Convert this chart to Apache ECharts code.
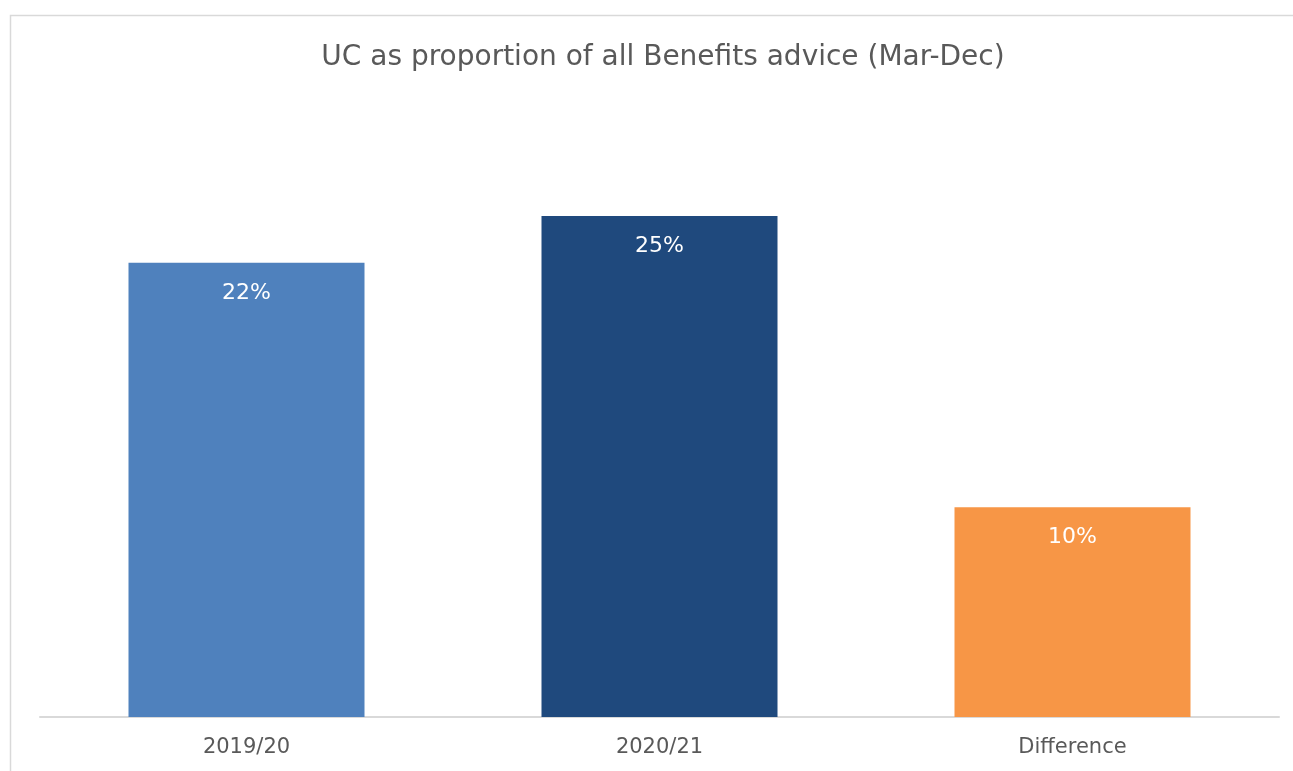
<!DOCTYPE html>
<html>
<head>
<meta charset="utf-8">
<script src="https://cdn.jsdelivr.net/npm/echarts@6/dist/echarts.min.js"></script>
<style>
  html, body { margin: 0; padding: 0; background: #fff; }
  #main { width: 1293px; height: 771px; }
</style>
</head>
<body>
<div id="main"></div>
<script>
  // values (percent)
  const categories = ['2019/20', '2020/21', 'Difference'];
  const values = [22.3, 24.6, 10.3];
  const barColors = ['#4f81bd', '#1f497d', '#f79646'];

  const myChart = echarts.init(document.getElementById('main'));
  const font = 'Tahoma, "DejaVu Sans", sans-serif';

  const option = {
    backgroundColor: '#fff',
    textStyle: { fontFamily: font },
    title: {
      text: 'UC as proportion of all Benefits advice (Mar-Dec)',
      left: 658,
      textAlign: 'center',
      top: 39,
      textStyle: { color: '#595959', fontSize: 28, fontWeight: 'normal', fontFamily: font }
    },
    graphic: [{
      type: 'rect',
      shape: { x: 10.5, y: 15.5, width: 1400, height: 800 },
      style: { fill: 'none', stroke: '#d9d9d9', lineWidth: 1.5 },
      silent: true
    }],
    grid: { left: 40, right: 14, top: 106, bottom: 54 },
    xAxis: {
      type: 'category',
      data: categories,
      axisLine: { lineStyle: { color: '#d9d9d9', width: 2 } },
      axisTick: { show: false },
      axisLabel: { color: '#595959', fontSize: 21, margin: 20, fontFamily: font }
    },
    yAxis: {
      type: 'value',
      min: 0,
      max: 30,
      show: false,
      splitLine: { show: false }
    },
    series: [{
      type: 'bar',
      barWidth: 236,
      data: values.map((v, i) => ({ value: v, itemStyle: { color: barColors[i] } })),
      label: {
        show: true,
        position: 'insideTop',
        distance: 19,
        color: '#fff',
        fontSize: 22,
        fontFamily: font,
        formatter: p => Math.round(p.value) + '%'
      }
    }]
  };
  myChart.setOption(option);
</script>
</body>
</html>
